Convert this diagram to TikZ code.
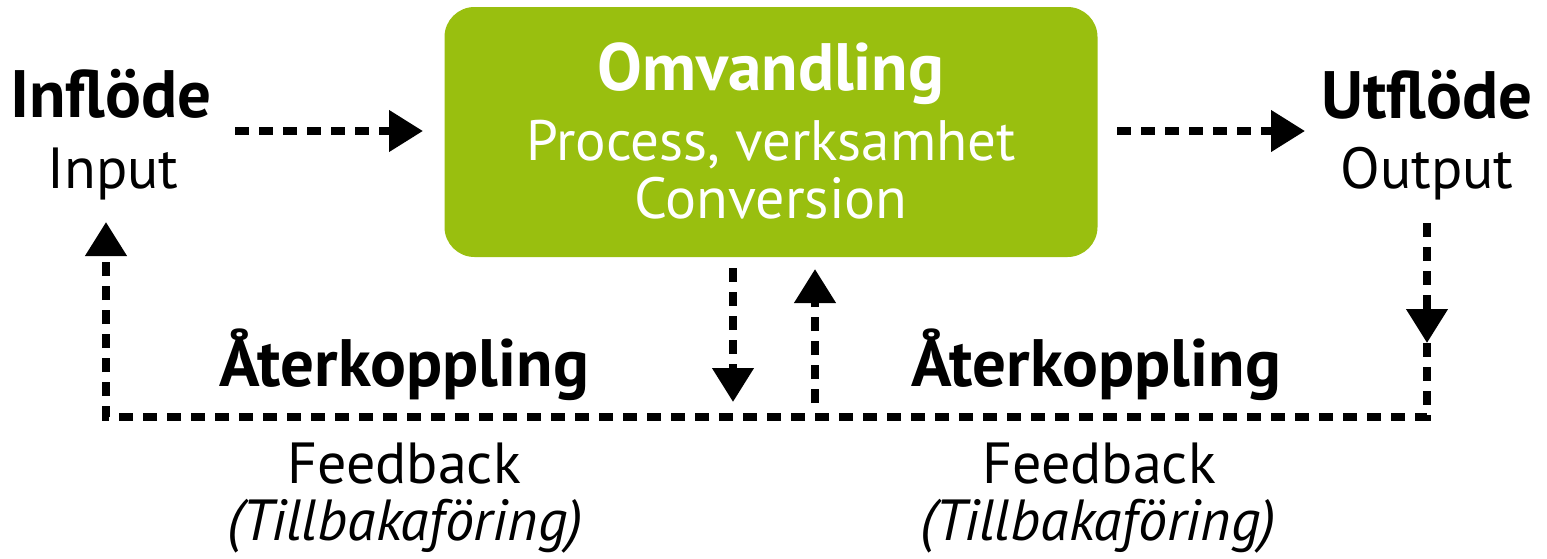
\documentclass[tikz,border=0pt]{standalone}
\usepackage{fontspec}
\setmainfont{PT Sans}
\usepackage{xcolor}
\usetikzlibrary{
    arrows.meta,
    positioning
}
\definecolor{boxgreen}{HTML}{99BF0F}
\tikzset{
    flowline/.style={line width=7.5pt, dash pattern=on 14pt off 10pt, line join=miter},
    flow/.style={flowline, -{Triangle[length=34pt, width=40pt]}},
    headtext/.style={font=\bfseries\fontsize{67}{70}\selectfont, anchor=base, inner sep=0pt},
    subtext/.style={font=\fontsize{58}{60}\selectfont, anchor=base, inner sep=0pt}
}

\begin{document}
\begin{tikzpicture}[x=1pt, y=-1pt]
                        \useasboundingbox (0,0) rectangle (1547,558);
                        % process box
                        \node[fill=boxgreen, rounded corners=30pt, minimum width=653pt, minimum height=250pt] (conv) at (771,132) {};
                        \node[headtext, white] (omv) at (771,90) {Omvandling};
                        \node[subtext, white, font=\fontsize{57}{60}\selectfont] (proc) at (771,160) {Process, verksamhet};
                        \node[subtext, white] (convtxt) at (771,218) {Conversion};

                        % input and output
                        \node[headtext] (infl) at (111,117) {Inflöde};
                        \node[subtext] (inp) at (113,188) {Input};
                        \node[headtext] (utfl) at (1427,118) {Utflöde};
                        \node[subtext] (outp) at (1427,188) {Output};

                        % feedback labels
                        \node[headtext] (fbl) at (404,386) {Återkoppling};
                        \node[subtext] (fbl1) at (404,483) {Feedback};
                        \node[subtext, font=\itshape\fontsize{58}{60}\selectfont] (fbl2) at (405,540) {(Tillbakaföring)};
                        \node[headtext] (fbr) at (1096,386) {Återkoppling};
                        \node[subtext] (fbr1) at (1099,483) {Feedback};
                        \node[subtext, font=\itshape\fontsize{58}{60}\selectfont] (fbr2) at (1098,540) {(Tillbakaföring)};

                        % connector ends
                        \coordinate (inA) at (235,131);
                        \coordinate (inB) at (423,131);
                        \coordinate (outA) at (1117,131);
                        \coordinate (outB) at (1305,131);
                        \coordinate (outC) at (1427,223);
                        \coordinate (outD) at (1427,343);
                        \coordinate (cornR) at (1427,417);
                        \coordinate (cornL) at (106,417);
                        \coordinate (inC) at (106,222);
                        \coordinate (downA) at (733,268);
                        \coordinate (downB) at (733,402);
                        \coordinate (upA) at (815,403);
                        \coordinate (upB) at (815,269);

                        \draw[flow] (inA) -- (inB);
                        \draw[flow] (outA) -- (outB);
                        \draw[flow] (outC) -- (outD);
                        \draw[flow] (outD) -- (cornR) -- (cornL) -- (inC);
                        \draw[flow] (downA) -- (downB);
                        \draw[flow] (upA) -- (upB);
                    \end{tikzpicture}
\end{document}
